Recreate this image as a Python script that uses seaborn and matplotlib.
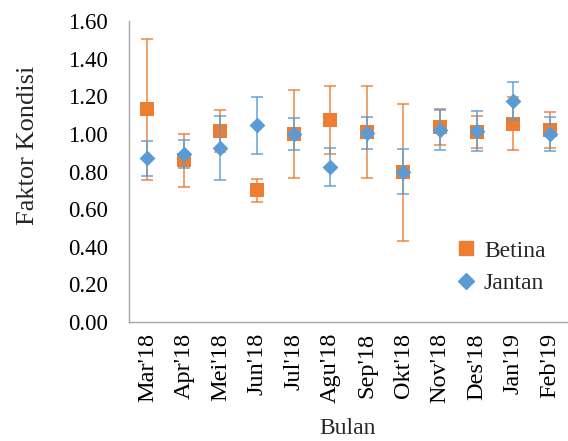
import matplotlib
matplotlib.use("Agg")
import matplotlib.pyplot as plt
import seaborn as sns
import pandas as pd
import numpy as np
from matplotlib.lines import Line2D

months = ["Mar'18", "Apr'18", "Mei'18", "Jun'18", "Jul'18", "Agu'18", "Sep'18",
          "Okt'18", "Nov'18", "Des'18", "Jan'19", "Feb'19"]
betina = [1.13, 0.86, 1.015, 0.70, 1.00, 1.075, 1.01, 0.795, 1.035, 1.01, 1.055, 1.02]
betina_sd = [0.375, 0.14, 0.11, 0.062, 0.235, 0.18, 0.245, 0.365, 0.095, 0.085, 0.14, 0.097]
jantan = [0.87, 0.895, 0.925, 1.045, 1.00, 0.825, 1.005, 0.80, 1.02, 1.015, 1.175, 1.00]
jantan_sd = [0.092, 0.075, 0.17, 0.152, 0.087, 0.10, 0.085, 0.122, 0.106, 0.108, 0.10, 0.09]
yticks = [0.0, 0.2, 0.4, 0.6, 0.8, 1.0, 1.2, 1.4, 1.6]

ORANGE = "#ED7D31"
BLUE = "#5B9BD5"
GRAY = "#A6A6A6"

sns.set_style("white")
plt.rcParams["font.family"] = ["Liberation Serif", "DejaVu Serif"]

df = pd.DataFrame({
    "Bulan": months * 2,
    "Faktor Kondisi": betina + jantan,
    "sd": betina_sd + jantan_sd,
    "Jenis": ["Betina"] * len(months) + ["Jantan"] * len(months),
})

W, H = 568, 441
fig = plt.figure(figsize=(W / 100, H / 100), dpi=100)
ax = fig.add_axes([129 / W, 1 - 322 / H, 1 - 129 / W, (322 - 21) / H])

x = np.arange(len(months))
# Betina
ax.errorbar(x, betina, yerr=betina_sd, fmt="none", ecolor=ORANGE, elinewidth=1.2,
            capsize=4, capthick=1.2, alpha=0.85, zorder=2)
sub = df[df["Jenis"] == "Betina"]
sns.scatterplot(data=sub, x="Bulan", y="Faktor Kondisi", marker="s", s=105,
                color=ORANGE, edgecolor=ORANGE, linewidth=0, ax=ax, zorder=3, legend=False)
# Jantan
ax.errorbar(x, jantan, yerr=jantan_sd, fmt="none", ecolor=BLUE, elinewidth=1.2,
            capsize=4, capthick=1.2, alpha=0.85, zorder=4)
sub = df[df["Jenis"] == "Jantan"]
sns.scatterplot(data=sub, x="Bulan", y="Faktor Kondisi", marker="D", s=65,
                color=BLUE, edgecolor=BLUE, linewidth=0, ax=ax, zorder=5, legend=False)

ax.set_xlim(-0.5, len(months) - 0.5)
ax.set_ylim(0, 1.6)
ax.set_yticks(yticks)
ax.set_yticklabels([f"{v:.2f}" for v in yticks])
ax.set_xticks(x)
ax.set_xticklabels(months, rotation=90)
ax.set_xticks(np.arange(-0.5, len(months) + 0.5, 1), minor=True)
ax.tick_params(axis="x", which="major", length=0, labelsize=17.5, pad=8, labelcolor="black")
ax.tick_params(axis="x", which="minor", length=5, color=GRAY, width=1, direction="out")
ax.tick_params(axis="y", which="major", length=5, color=GRAY, width=1, labelsize=16.5,
               pad=10, direction="out", labelcolor="black")

for s in ["top", "right"]:
    ax.spines[s].set_visible(False)
for s in ["left", "bottom"]:
    ax.spines[s].set_color(GRAY)
    ax.spines[s].set_linewidth(1)

ax.set_xlabel("")
ax.set_ylabel("")
fig.text(28 / W, 1 - 145 / H, "Faktor Kondisi", rotation=90, ha="center", va="center",
         fontsize=19)
fig.text(348 / W, 1 - 429 / H, "Bulan", ha="center", va="center", fontsize=17)

handles = [
    Line2D([], [], marker="s", linestyle="none", color=ORANGE, markersize=10, label="Betina"),
    Line2D([], [], marker="D", linestyle="none", color=BLUE, markersize=8, label="Jantan"),
]
ax.legend(handles=handles, loc="upper left", bbox_to_anchor=(452 / W, 1 - 240 / H),
          bbox_transform=fig.transFigure, frameon=False, borderpad=0, borderaxespad=0,
          fontsize=17, handletextpad=0.15, handlelength=1.2, labelspacing=0.47)

fig.savefig("out.png", dpi=100)
